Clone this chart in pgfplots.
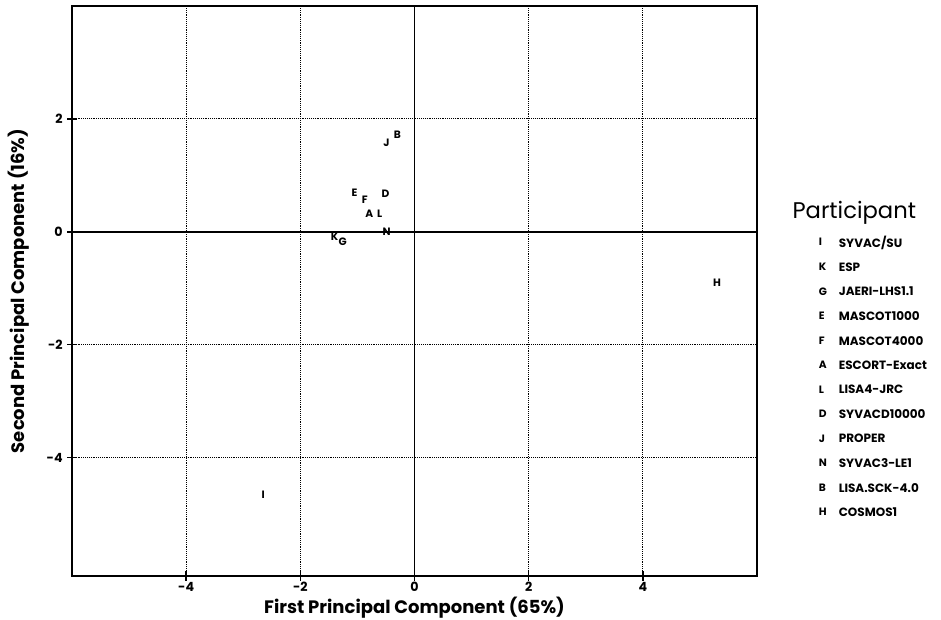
\documentclass[border=0pt]{standalone}
\usepackage{fontspec}
\setmainfont{Poppins}
\usepackage{pgfplots}
\pgfplotsset{compat=1.18}
\begin{document}
\begin{tikzpicture}
\begin{axis}[
  at={(0,0)}, anchor=south west,
  scale only axis, width=513.75pt, height=427.5pt,
  xmin=-6, xmax=6, ymin=-6.1, ymax=4,
  xtick={-4,-2,2,4}, ytick={-4,-2,2},
  extra x ticks={0}, extra y ticks={0},
  extra x tick style={grid=major, major grid style={solid, black, line width=1.2pt}},
  extra y tick style={grid=major, major grid style={solid, black, line width=1.2pt}},
  grid=major, major grid style={black, densely dotted, line width=0.9pt},
  axis line style={line width=1.5pt},
  tick style={black, line width=1.2pt},
  tick align=center, major tick length=7pt,
  xtick pos=left, ytick pos=left,
  /pgf/number format/assume math mode=true,
  ticklabel style={font=\bfseries\fontsize{9.5}{10}\selectfont},
  xticklabel style={yshift=2.5pt},
  xlabel={First Principal Component (65\%)},
  ylabel={Second Principal Component (16\%)},
  label style={font=\bfseries\fontsize{13.5}{15}\selectfont},
  xlabel style={yshift=10pt},
  ylabel style={yshift=-1pt},
  legend style={draw=none, fill=none, at={(1.0777,0.607)}, anchor=north west,
    font=\bfseries\fontsize{9}{10}\selectfont, row sep=6.3pt,
    legend cell align=left},
  legend image code/.code={\path[draw=none,fill=none] (0pt,-0.1pt) rectangle (16.25pt,0.1pt); \draw[#1] plot coordinates {(3pt,0pt)};},
  clip=false,
]
\pgfplotsset{lt/.style={only marks, mark=text, text mark={#1}, text mark as node=true,
  text mark style={font=\bfseries\fontsize{8}{9}\selectfont, inner sep=0pt}}}
\addplot[lt=I] coordinates {(-2.65,-4.66)}; \addlegendentry{SYVAC/SU}
\addplot[lt=K] coordinates {(-1.40,-0.09)}; \addlegendentry{ESP}
\addplot[lt=G] coordinates {(-1.26,-0.18)}; \addlegendentry{JAERI-LHS1.1}
\addplot[lt=E] coordinates {(-1.05,0.69)}; \addlegendentry{MASCOT1000}
\addplot[lt=F] coordinates {(-0.87,0.57)}; \addlegendentry{MASCOT4000}
\addplot[lt=A] coordinates {(-0.79,0.32)}; \addlegendentry{ESCORT-Exact}
\addplot[lt=L] coordinates {(-0.61,0.31)}; \addlegendentry{LISA4-JRC}
\addplot[lt=D] coordinates {(-0.51,0.68)}; \addlegendentry{SYVACD10000}
\addplot[lt=J] coordinates {(-0.49,1.58)}; \addlegendentry{PROPER}
\addplot[lt=N] coordinates {(-0.49,0.00)}; \addlegendentry{SYVAC3-LE1}
\addplot[lt=B] coordinates {(-0.30,1.72)}; \addlegendentry{LISA.SCK-4.0}
\addplot[lt=H] coordinates {(5.30,-0.90)}; \addlegendentry{COSMOS1}
\node[anchor=west, font=\fontsize{17}{19}\selectfont] at (axis description cs:1.045,0.637) {Participant};
\end{axis}
\pgfresetboundingbox
\path[use as bounding box] (-54pt,-33pt) rectangle (651.75pt,432pt);
\end{tikzpicture}
\end{document}
